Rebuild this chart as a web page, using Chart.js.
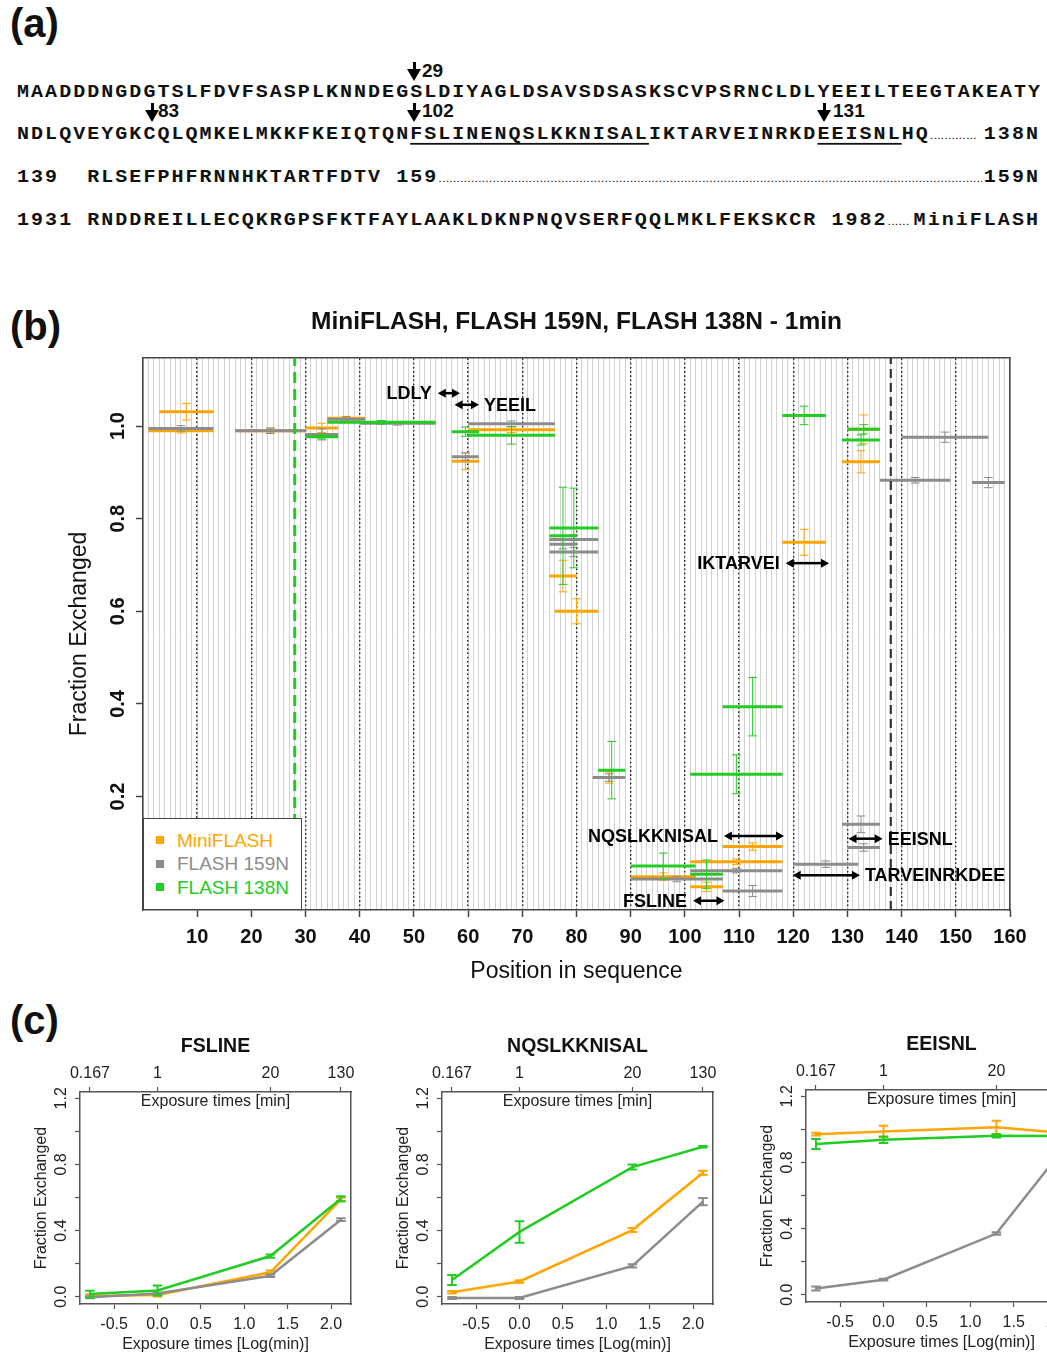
<!DOCTYPE html>
<html>
<head>
<meta charset="utf-8">
<title>MiniFLASH / FLASH hydrogen exchange</title>
<script src="https://cdn.jsdelivr.net/npm/chart.js@4.4.1/dist/chart.umd.min.js"></script>
<style>
  html, body { margin: 0; padding: 0; background: #fff; }
  body { position: relative; width: 1047px; height: 1355px; overflow: hidden; color: #111; }
  .tag { position: absolute; font: bold 40px "Liberation Sans", Arial, sans-serif; line-height: 40px; }
  .seq { position: absolute; left: 17px; font: bold 20px "Liberation Mono", monospace; letter-spacing: 2.04px;
         white-space: pre; line-height: 20px; transform: scaleY(0.88); }
  .seq.right { left: auto; right: 7px; }
  .seq u { text-decoration: underline; text-decoration-thickness: 2px; text-underline-offset: 4px; }
  .dots { font: 13px "Liberation Sans", Arial, sans-serif; letter-spacing: 0; }
  .arrow { position: absolute; width: 14px; height: 19px; }
  .arrow .stem { position: absolute; left: 5.5px; top: 0; width: 3px; height: 8px; background: #000; }
  .arrow .head { position: absolute; left: 0; top: 7px; width: 0; height: 0;
                 border-left: 7px solid transparent; border-right: 7px solid transparent; border-top: 12px solid #000; }
  .num { position: absolute; font: bold 19px "Liberation Sans", Arial, sans-serif; line-height: 20px; }
  canvas { position: absolute; }
  #legendB { position: absolute; left: 143px; top: 818px; width: 159px; height: 92px; box-sizing: border-box;
             border: 1.5px solid #444; background: #fff; z-index: 2; font: 19px "Liberation Sans", Arial, sans-serif; }
  #legendB .row { position: absolute; left: 12px; height: 22px; line-height: 22px; white-space: nowrap; }
  #legendB .sw { display: inline-block; width: 8px; height: 8px; margin-right: 13px; vertical-align: middle;
                 position: relative; top: -1px; }
</style>
</head>
<body>

<!-- (a) sequence panel -->
<div class="tag" style="left:10px;top:3px">(a)</div>

<div class="arrow" style="left:407px;top:62px"><div class="stem"></div><div class="head"></div></div>
<div class="num" style="left:422px;top:61px">29</div>
<div class="seq" style="top:83px">MAADDDNGDGTSLFDVFSASPLKNNDEGSLDIYAGLDSAVSDSASKSCVPSRNCLDLYEEILTEEGTAKEATY</div>

<div class="arrow" style="left:145px;top:103px"><div class="stem"></div><div class="head"></div></div>
<div class="num" style="left:158px;top:101px">83</div>
<div class="arrow" style="left:407px;top:103px"><div class="stem"></div><div class="head"></div></div>
<div class="num" style="left:422px;top:101px">102</div>
<div class="arrow" style="left:817px;top:103px"><div class="stem"></div><div class="head"></div></div>
<div class="num" style="left:833px;top:101px">131</div>
<div class="seq" style="top:125px">NDLQVEYGKCQLQMKELMKKFKEIQTQN<u>FSLINENQSLKKNISAL</u>IKTARVEINRKD<u>EEISNL</u>HQ<span class="dots">.............</span></div>
<div class="seq right" style="top:125px">138N</div>

<div class="seq" style="top:168px">139  RLSEFPHFRNNHKTARTFDTV 159<span class="dots">.........................................................................................................................................................</span></div>
<div class="seq right" style="top:168px;background:#fff;padding-left:2px">159N</div>

<div class="seq" style="top:211px">1931 RNDDREILLECQKRGPSFKTFAYLAAKLDKNPNQVSERFQQLMKLFEKSKCR 1982<span class="dots">......</span></div>
<div class="seq right" style="top:211px">MiniFLASH</div>

<!-- (b) coverage at 1 min -->
<div class="tag" style="left:10px;top:306px">(b)</div>
<canvas id="chartB" width="1047" height="695" style="left:0;top:295px"></canvas>
<div id="legendB"></div>

<!-- (c) kinetics of selected peptides -->
<div class="tag" style="left:10px;top:1000px">(c)</div>
<canvas id="chartC1" width="371" height="325" style="left:0;top:1030px"></canvas>
<canvas id="chartC2" width="371" height="325" style="left:362px;top:1030px"></canvas>
<canvas id="chartC3" width="371" height="325" style="left:726px;top:1028px"></canvas>

<script>
// * Data
// * (b): peptide segments after 1 min of exchange, (c): exchange kinetics

const seriesNames = ['MiniFLASH', 'FLASH 159N', 'FLASH 138N']
const seriesColors = ['#ffa500', '#8c8c8c', '#22cc22']

// MiniFLASH peptides: first residue, last residue, fraction exchanged, error
const miniStart = [3, 1, 17, 30, 34, 57, 60, 75, 76, 83, 90, 101, 101, 107, 118, 129, 130]
const miniEnd = [13, 13, 30, 36, 41, 62, 76, 80, 84, 89, 102, 107, 118, 118, 126, 136, 136]
const miniValue = [1.031, 0.990, 0.990, 0.996, 1.017, 0.924, 0.992, 0.676, 0.600, 0.241, 0.027, 0.005, 0.059, 0.092, 0.749, 0.923, 0.993]
const miniErr = [0.018, 0.005, 0.005, 0.010, 0.004, 0.018, 0.006, 0.034, 0.027, 0.012, 0.008, 0.010, 0.006, 0.008, 0.028, 0.024, 0.031]

// FLASH 159N peptides
const f159Start = [1, 17, 30, 34, 40, 57, 60, 75, 75, 75, 83, 90, 101, 107, 120, 129, 130, 136, 140, 153]
const f159End = [13, 30, 36, 41, 54, 62, 76, 84, 80, 84, 89, 107, 118, 118, 132, 136, 136, 149, 156, 159]
const f159Value = [0.995, 0.990, 0.982, 1.015, 1.006, 0.934, 1.005, 0.755, 0.745, 0.728, 0.241, 0.022, 0.040, -0.004, 0.054, 0.140, 0.090, 0.883, 0.976, 0.878]
const f159Err = [0.006, 0.006, 0.012, 0.005, 0.004, 0.008, 0.006, 0.010, 0.010, 0.010, 0.008, 0.006, 0.005, 0.012, 0.007, 0.018, 0.008, 0.006, 0.011, 0.011]

// FLASH 138N peptides
const f138Start = [30, 34, 57, 60, 75, 75, 84, 90, 101, 101, 107, 118, 130, 129]
const f138End = [36, 54, 62, 76, 84, 80, 89, 102, 107, 118, 118, 126, 136, 136]
const f138Value = [0.977, 1.008, 0.988, 0.980, 0.780, 0.763, 0.257, 0.050, 0.032, 0.248, 0.394, 1.023, 0.993, 0.970]
const f138Err = [0.005, 0.004, 0.010, 0.019, 0.086, 0.105, 0.062, 0.028, 0.031, 0.042, 0.063, 0.020, 0.010, 0.011]

// labelled peptides (double arrows)
const pepLabels = ['LDLY', 'YEEIL', 'IKTARVEI', 'NQSLKKNISAL', 'EEISNL', 'TARVEINRKDEE', 'FSLINE']
const pepFrom = [54.4, 57.5, 118.6, 107.2, 130.2, 119.9, 101.5]
const pepTo = [58.5, 62.0, 126.6, 118.3, 136.5, 132.3, 107.3]
const pepLevel = [1.071, 1.046, 0.704, 0.115, 0.109, 0.030, -0.025]
const pepSide = ['left', 'right', 'left', 'left', 'right', 'right', 'left']

// construct boundaries (dashed lines)
const markerPos = [28, 138]
const markerColors = ['#22cc22', '#333333']

const seqTicks = [10, 20, 30, 40, 50, 60, 70, 80, 90, 100, 110, 120, 130, 140, 150, 160]
const seqDotted = [10, 20, 30, 40, 50, 60, 70, 80, 90, 100, 110, 120, 130, 140, 150]
const fracTicks = [0.2, 0.4, 0.6, 0.8, 1.0]

// (c) exposure times: log10(min) and labels in minutes
const timeLog = [-0.778, 0, 1.301, 2.114]
const timeLabels = ['0.167', '1', '20', '130']
const logTicks = [-0.5, 0, 0.5, 1, 1.5, 2]
const fracTicksC = [0, 0.2, 0.4, 0.6, 0.8, 1.0, 1.2]
const fracLabelsC = [0, 0.4, 0.8, 1.2]

// FSLINE
const fslMini = [0.005, 0.010, 0.148, 0.588]
const fslMiniErr = [0.008, 0.008, 0.010, 0.010]
const fsl159 = [-0.003, 0.020, 0.127, 0.466]
const fsl159Err = [0.006, 0.006, 0.008, 0.008]
const fsl138 = [0.016, 0.038, 0.246, 0.593]
const fsl138Err = [0.020, 0.030, 0.010, 0.015]

// NQSLKKNISAL
const nqMini = [0.027, 0.092, 0.403, 0.750]
const nqMiniErr = [0.008, 0.008, 0.012, 0.012]
const nq159 = [-0.008, -0.008, 0.186, 0.575]
const nq159Err = [0.006, 0.006, 0.010, 0.022]
const nq138 = [0.101, 0.392, 0.784, 0.907]
const nq138Err = [0.030, 0.065, 0.015, 0.004]

// EEISNL
const eeMini = [0.971, 0.987, 1.012, 0.976]
const eeMiniErr = [0.008, 0.035, 0.040, 0.010]
const ee159 = [0.038, 0.091, 0.370, 0.910]
const ee159Err = [0.012, 0.005, 0.008, 0.010]
const ee138 = [0.911, 0.937, 0.961, 0.960]
const ee138Err = [0.030, 0.020, 0.010, 0.010]

Chart.defaults.font.family = '"Liberation Sans", Arial, sans-serif'
Chart.defaults.color = '#111'

const FONT = '"Liberation Sans", Arial, sans-serif'
const FRAME = '#444'

// horizontal segments, broken by null points
function segmentPoints(starts, ends, values) {
    const pts = []
    starts.forEach((s, i) => {
        pts.push({ x: s, y: values[i] }, { x: ends[i], y: values[i] }, { x: ends[i], y: null })
    })
    return pts
}

// vertical error bars with caps
function errorBarPoints(xs, values, errs, cap) {
    const pts = []
    xs.forEach((x, i) => {
        const lo = values[i] - errs[i]
        const hi = values[i] + errs[i]
        pts.push({ x: x, y: lo }, { x: x, y: hi }, { x: x, y: null })
        pts.push({ x: x - cap, y: lo }, { x: x + cap, y: lo }, { x: x, y: null })
        pts.push({ x: x - cap, y: hi }, { x: x + cap, y: hi }, { x: x, y: null })
    })
    return pts
}

// y tick labels read bottom-to-top, like R's default axis
const rotatedTicks = {
    id: 'rotatedTicks',
    afterDraw(chart, args, opts) {
        const scale = chart.scales.y
        const ctx = chart.ctx
        ctx.save()
        ctx.font = opts.labelFont
        ctx.fillStyle = opts.labelColor
        ctx.textAlign = 'center'
        ctx.textBaseline = 'middle'
        scale.ticks.forEach((t) => {
            if (!t.label) return
            ctx.save()
            ctx.translate(scale.right - opts.gap, scale.getPixelForValue(t.value))
            ctx.rotate(-Math.PI / 2)
            ctx.fillText(t.label, 0, 0)
            ctx.restore()
        })
        ctx.restore()
    }
}

// double-headed arrows with peptide names
const peptideArrows = {
    id: 'peptideArrows',
    afterDatasetsDraw(chart) {
        const { ctx } = chart
        const x = chart.scales.x
        const y = chart.scales.y
        const head = 8
        ctx.save()
        ctx.strokeStyle = '#000'
        ctx.fillStyle = '#000'
        ctx.lineWidth = 2.5
        ctx.font = 'bold 18px ' + FONT
        ctx.textBaseline = 'middle'
        pepLabels.forEach((label, i) => {
            const x1 = x.getPixelForValue(pepFrom[i])
            const x2 = x.getPixelForValue(pepTo[i])
            const py = y.getPixelForValue(pepLevel[i])
            ctx.beginPath()
            ctx.moveTo(x1 + head - 1, py)
            ctx.lineTo(x2 - head + 1, py)
            ctx.stroke()
            ctx.beginPath()
            ctx.moveTo(x1, py)
            ctx.lineTo(x1 + head, py - 4.5)
            ctx.lineTo(x1 + head, py + 4.5)
            ctx.closePath()
            ctx.moveTo(x2, py)
            ctx.lineTo(x2 - head, py - 4.5)
            ctx.lineTo(x2 - head, py + 4.5)
            ctx.closePath()
            ctx.fill()
            if (pepSide[i] === 'left') {
                ctx.textAlign = 'right'
                ctx.fillText(label, x1 - 6, py + 1)
            } else {
                ctx.textAlign = 'left'
                ctx.fillText(label, x2 + 5, py + 1)
            }
        })
        ctx.restore()
    }
}

// ---------- panel (b) ----------
const Y_MIN = -0.045
const Y_MAX = 1.147

function createCoverageChart() {
    const segs = [
        [miniStart, miniEnd, miniValue, miniErr],
        [f159Start, f159End, f159Value, f159Err],
        [f138Start, f138End, f138Value, f138Err]
    ]
    const datasets = []
    segs.forEach(([starts, ends, values, errs], s) => {
        const mids = starts.map((v, i) => (v + ends[i]) / 2)
        datasets.push({
            label: seriesNames[s],
            data: segmentPoints(starts, ends, values),
            showLine: true,
            borderColor: seriesColors[s],
            borderWidth: 3,
            pointRadius: 0,
            spanGaps: false,
            order: 6 - 2 * s
        })
        datasets.push({
            label: seriesNames[s] + ' error',
            data: errorBarPoints(mids, values, errs, 0.8),
            showLine: true,
            borderColor: seriesColors[s],
            borderWidth: 1,
            pointRadius: 0,
            spanGaps: false,
            order: 7 - 2 * s
        })
    })
    markerPos.forEach((p, i) => {
        datasets.push({
            label: 'marker ' + p,
            data: [{ x: p, y: Y_MIN }, { x: p, y: Y_MAX }],
            showLine: true,
            borderColor: markerColors[i],
            borderWidth: i === 0 ? 3 : 2.2,
            borderDash: i === 0 ? [11, 6] : [9, 5],
            pointRadius: 0,
            order: 0
        })
    })

    const gridPositions = []
    for (let v = 0; v <= 160; v++) gridPositions.push(v)

    new Chart(document.getElementById('chartB'), {
        type: 'scatter',
        data: { datasets },
        plugins: [rotatedTicks, peptideArrows],
        options: {
            responsive: false,
            animation: false,
            events: [],
            layout: { padding: { left: 0, right: 37, top: 0, bottom: 0 } },
            plugins: {
                legend: { display: false },
                tooltip: { enabled: false },
                title: {
                    display: true,
                    text: 'MiniFLASH, FLASH 159N, FLASH 138N - 1min',
                    fullSize: false,
                    color: '#111',
                    font: { size: 24.5, weight: 'bold' },
                    padding: { top: 12.3, bottom: 21.3 }
                },
                rotatedTicks: { gap: 25, labelFont: 'bold 20px ' + FONT, labelColor: '#111' }
            },
            scales: {
                x: {
                    type: 'linear',
                    position: 'bottom',
                    min: 0,
                    max: 160,
                    afterBuildTicks: (s) => { s.ticks = gridPositions.map((v) => ({ value: v })) },
                    afterFit: (s) => { s.height = 80 },
                    ticks: {
                        autoSkip: false,
                        maxRotation: 0,
                        minRotation: 0,
                        padding: 8,
                        color: '#111',
                        font: { size: 20, weight: 'bold' },
                        callback: (v) => (seqTicks.includes(v) ? String(v) : '')
                    },
                    grid: {
                        color: '#d2d2d2',
                        lineWidth: 1,
                        tickLength: 7,
                        tickWidth: 1.5,
                        tickColor: (c) => (c.tick && seqTicks.includes(c.tick.value) ? FRAME : 'rgba(0,0,0,0)'),
                        z: -2
                    },
                    border: { display: true, color: FRAME, width: 1.5 },
                    title: {
                        display: true,
                        text: 'Position in sequence',
                        color: '#111',
                        font: { size: 23 },
                        padding: { top: 0, bottom: 4.2 }
                    }
                },
                xDot: {
                    type: 'linear',
                    axis: 'x',
                    position: 'top',
                    min: 0,
                    max: 160,
                    afterBuildTicks: (s) => { s.ticks = seqDotted.map((v) => ({ value: v })) },
                    afterFit: (s) => { s.height = 0 },
                    ticks: { display: false },
                    grid: { color: '#222', lineWidth: 1.4, drawTicks: false, z: -1 },
                    border: { display: true, color: FRAME, width: 1.5, dash: [1.6, 2.6] }
                },
                y: {
                    type: 'linear',
                    position: 'left',
                    min: Y_MIN,
                    max: Y_MAX,
                    afterBuildTicks: (s) => { s.ticks = fracTicks.map((v) => ({ value: v })) },
                    afterFit: (s) => { s.width = 143 },
                    ticks: { display: false, callback: (v) => v.toFixed(1) },
                    grid: { drawOnChartArea: false, tickLength: 7, tickWidth: 1.5, tickColor: FRAME },
                    border: { display: true, color: FRAME, width: 1.5 },
                    title: {
                        display: true,
                        text: 'Fraction Exchanged',
                        color: '#111',
                        font: { size: 23 },
                        padding: { top: 66.2, bottom: 0 }
                    }
                },
                yRight: {
                    type: 'linear',
                    axis: 'y',
                    position: 'right',
                    afterFit: (s) => { s.width = 0 },
                    ticks: { display: false },
                    grid: { display: false },
                    border: { display: true, color: FRAME, width: 1.5 }
                }
            }
        }
    })

    // legend box inside the plot
    const legend = document.getElementById('legendB')
    seriesNames.forEach((name, i) => {
        const row = document.createElement('div')
        row.className = 'row'
        row.style.top = (10.5 + i * 23.5) + 'px'
        row.innerHTML = '<span class="sw" style="background:' + seriesColors[i] + '"></span>' +
            '<span style="color:' + seriesColors[i] + '">' + name + '</span>'
        legend.appendChild(row)
    })
}

// ---------- panel (c) ----------
const C_XMIN = -0.893
const C_XMAX = 2.23
const C_YMIN = -0.044
const C_YMAX = 1.238

function createKineticsChart(id, title, values, errors) {
    const datasets = []
    values.forEach((v, s) => {
        datasets.push({
            label: seriesNames[s],
            data: timeLog.map((t, i) => ({ x: t, y: v[i] })),
            showLine: true,
            borderColor: seriesColors[s],
            borderWidth: 2.5,
            pointRadius: 0,
            order: 6 - 2 * s
        })
        datasets.push({
            label: seriesNames[s] + ' error',
            data: errorBarPoints(timeLog, v, errors[s], 0.055),
            showLine: true,
            borderColor: seriesColors[s],
            borderWidth: 2,
            pointRadius: 0,
            spanGaps: false,
            order: 7 - 2 * s
        })
    })

    new Chart(document.getElementById(id), {
        type: 'scatter',
        data: { datasets },
        plugins: [rotatedTicks],
        options: {
            responsive: false,
            animation: false,
            events: [],
            layout: { padding: { left: 0, right: 20, top: 0, bottom: 0 } },
            plugins: {
                legend: { display: false },
                tooltip: { enabled: false },
                title: {
                    display: true,
                    text: title,
                    fullSize: false,
                    color: '#111',
                    font: { size: 19.5, weight: 'bold' },
                    padding: { top: 5, bottom: 0 }
                },
                rotatedTicks: { gap: 18.3, labelFont: '16px ' + FONT, labelColor: '#222' }
            },
            scales: {
                x: {
                    type: 'linear',
                    position: 'bottom',
                    min: C_XMIN,
                    max: C_XMAX,
                    afterBuildTicks: (s) => { s.ticks = logTicks.map((v) => ({ value: v })) },
                    afterFit: (s) => { s.height = 51 },
                    ticks: { autoSkip: false, maxRotation: 0, padding: 6.4, color: '#222', font: { size: 16 },
                        callback: (v) => v.toFixed(1) },
                    grid: { drawOnChartArea: false, tickLength: 5, tickWidth: 1.2, tickColor: '#555' },
                    border: { display: true, color: '#555', width: 1.5 },
                    title: { display: true, text: 'Exposure times [Log(min)]', color: '#222', font: { size: 16 },
                        padding: { top: 0, bottom: 0.4 } }
                },
                xTime: {
                    type: 'linear',
                    axis: 'x',
                    position: 'top',
                    min: C_XMIN,
                    max: C_XMAX,
                    afterBuildTicks: (s) => { s.ticks = timeLog.map((v) => ({ value: v })) },
                    afterFit: (s) => { s.height = 33.6 },
                    ticks: { autoSkip: false, maxRotation: 0, padding: 4, color: '#222', font: { size: 16 },
                        callback: (v, i) => timeLabels[i] },
                    grid: { drawOnChartArea: false, tickLength: 5, tickWidth: 1.2, tickColor: '#555' },
                    border: { display: true, color: '#555', width: 1.5 },
                    title: { display: true, text: 'Exposure times [min]', color: '#222', font: { size: 16 },
                        padding: { top: 33.7, bottom: 0 } }
                },
                y: {
                    type: 'linear',
                    position: 'left',
                    min: C_YMIN,
                    max: C_YMAX,
                    afterBuildTicks: (s) => { s.ticks = fracTicksC.map((v) => ({ value: v })) },
                    afterFit: (s) => { s.width = 80 },
                    ticks: { display: false, callback: (v) => (fracLabelsC.includes(v) ? v.toFixed(1) : '') },
                    grid: { drawOnChartArea: false, tickLength: 5, tickWidth: 1.2, tickColor: '#555' },
                    border: { display: true, color: '#555', width: 1.5 },
                    title: { display: true, text: 'Fraction Exchanged', color: '#222', font: { size: 16 },
                        padding: { top: 32.1, bottom: 0 } }
                },
                yRight: {
                    type: 'linear',
                    axis: 'y',
                    position: 'right',
                    afterFit: (s) => { s.width = 0 },
                    ticks: { display: false },
                    grid: { display: false },
                    border: { display: true, color: '#555', width: 1.5 }
                }
            }
        }
    })
}

createCoverageChart()
createKineticsChart('chartC1', 'FSLINE', [fslMini, fsl159, fsl138], [fslMiniErr, fsl159Err, fsl138Err])
createKineticsChart('chartC2', 'NQSLKKNISAL', [nqMini, nq159, nq138], [nqMiniErr, nq159Err, nq138Err])
createKineticsChart('chartC3', 'EEISNL', [eeMini, ee159, ee138], [eeMiniErr, ee159Err, ee138Err])
</script>
</body>
</html>
